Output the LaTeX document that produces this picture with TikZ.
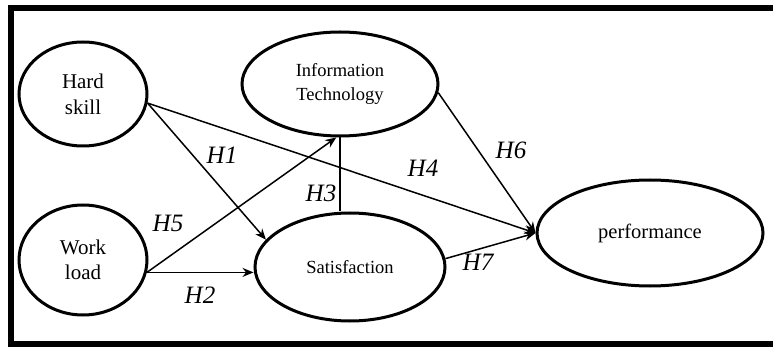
\documentclass[tikz,border=0pt]{standalone}
\usepackage{fontspec}
\setmainfont{Liberation Serif}
\usepackage{tikz}
\usetikzlibrary{arrows.meta,shapes.geometric}

\begin{document}
\begin{tikzpicture}[->,>={Stealth[length=11pt,width=9pt]},x=1pt,y=-1pt]

\useasboundingbox (0,0) rectangle (773,347);

% frame, cut on the right
\draw[-,line width=6pt] (776,8.5) -- (11,8.5) -- (11,344) -- (776,344);

    \node[ellipse,
          draw,
          line width = 3pt,
          minimum width = 128pt,
          minimum height = 104pt
          ] (hs) at (83,94) {};
    \node[align=center,font=\fontsize{21}{26}\selectfont] at (hs.center) {Hard\\skill};

    \node[ellipse,
          draw,
          line width = 3pt,
          minimum width = 128pt,
          minimum height = 110pt
          ] (wl) at (83,260) {};
    \node[align=center,font=\fontsize{21}{25}\selectfont] at (wl.center) {Work\\load};

    \node[ellipse,
          draw,
          line width = 3pt,
          minimum width = 196pt,
          minimum height = 104pt
          ] (it) at (340,84) {};
    \node[align=center,font=\fontsize{18.5}{24}\selectfont] at (it.center) {Information\\Technology};

    \node[ellipse,
          draw,
          line width = 3pt,
          minimum width = 190pt,
          minimum height = 108pt
          ] (sat) at (350,267) {};
    \node[font=\fontsize{18.5}{24}\selectfont] at (sat.center) {Satisfaction};

    \node[ellipse,
          draw,
          line width = 3pt,
          minimum width = 226pt,
          minimum height = 106pt
          ] (perf) at (650,233) {};
    \node[font=\fontsize{20.5}{24}\selectfont] at (perf.center) {performance};

% hypothesis labels
\node[font=\fontsize{25}{27}\selectfont\itshape] (h1) at (222,155) {H1};
\node[font=\fontsize{25}{27}\selectfont\itshape] (h2) at (200,295) {H2};
\node[font=\fontsize{25}{27}\selectfont\itshape] (h3) at (321,193) {H3};
\node[font=\fontsize{25}{27}\selectfont\itshape] (h4) at (423,168) {H4};
\node[font=\fontsize{25}{27}\selectfont\itshape] (h5) at (168,223) {H5};
\node[font=\fontsize{25}{27}\selectfont\itshape] (h6) at (511,150) {H6};
\node[font=\fontsize{25}{27}\selectfont\itshape] (h7) at (478,262) {H7};

    \path[line width=1.5pt]
    (hs.-8) edge [] (sat.162)
    (hs.-8) edge [] (perf.west)
    (wl.-11) edge [] (it.-94)
    (wl.-11) edge [] (wl.-11 -| sat.west)
    (it.south) edge [-] (it.south |- sat.north)
    (it.-5) edge [] (perf.west)
    (sat.5) edge [] (perf.west) ;

\end{tikzpicture}
\end{document}
